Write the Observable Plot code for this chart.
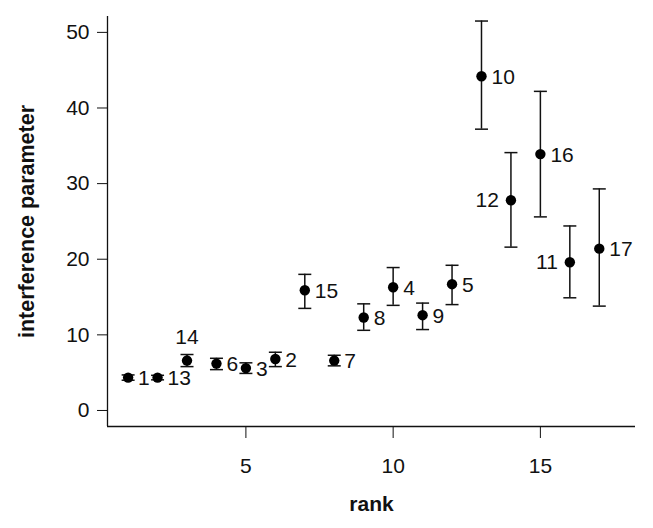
<!DOCTYPE html>
<html><head><meta charset="utf-8">
<script src="https://cdn.jsdelivr.net/npm/d3@7"></script>
<script src="https://cdn.jsdelivr.net/npm/@observablehq/plot@0.6"></script>
<style>body{margin:0;background:#fff;}</style>
</head><body><div id="chart"></div>
<script>
const ranks  = [1, 2, 3, 4, 5, 6, 7, 8, 9, 10, 11, 12, 13, 14, 15, 16, 17];
const labels = ["1","13","14","6","3","2","15","7","8","4","9","5","10","12","16","11","17"];
const values = [4.35, 4.35, 6.6, 6.2, 5.6, 6.8, 15.9, 6.6, 12.3, 16.3, 12.6, 16.7, 44.2, 27.8, 33.9, 19.6, 21.4];
const lower  = [4.0, 4.05, 5.8, 5.4, 4.9, 5.8, 13.5, 5.9, 10.6, 13.9, 10.7, 14.0, 37.2, 21.6, 25.6, 14.9, 13.8];
const upper  = [4.7, 4.65, 7.4, 6.9, 6.3, 7.7, 18.0, 7.3, 14.1, 18.9, 14.2, 19.2, 51.5, 34.1, 42.2, 24.4, 29.3];
const labelSide = ["right","right","top","right","right","right","right","right","right","right","right","right","right","left","right","left","right"];
const yTicks = [0, 10, 20, 30, 40, 50];
const xTicks = [5, 10, 15];

const data = ranks.map((r, i) => ({rank: r, label: labels[i], value: values[i], lo: lower[i], hi: upper[i], side: labelSide[i]}));
const xDomain = [0.3, 18.23];
const yDomain = [-2.12, 52.1];
const cap = {draw(ctx) { ctx.moveTo(-6.5, 0); ctx.lineTo(6.5, 0); }};
const font = "'Liberation Sans', Arial, sans-serif";

const chart = Plot.plot({
  width: 653,
  height: 528,
  marginLeft: 107,
  marginRight: 18,
  marginTop: 16,
  marginBottom: 102,
  style: {fontFamily: font, color: "#111", background: "#fff"},
  x: {domain: xDomain},
  y: {domain: yDomain},
  marks: [
    Plot.axisY({ticks: yTicks, tickSize: 10, tickPadding: 8, fontSize: 21, label: null, tickFormat: d => String(d)}),
    Plot.axisX({ticks: xTicks, tickSize: 12, tickPadding: 20, fontSize: 21, label: null, tickFormat: d => String(d)}),
    Plot.ruleX([xDomain[0]], {stroke: "#111", strokeWidth: 1.3}),
    Plot.ruleY([yDomain[0]], {stroke: "#111", strokeWidth: 1.3}),
    Plot.ruleX(data, {x: "rank", y1: "lo", y2: "hi", stroke: "#111", strokeWidth: 1.5}),
    Plot.dot(data, {x: "rank", y: "hi", symbol: cap, stroke: "#111", strokeWidth: 1.5}),
    Plot.dot(data, {x: "rank", y: "lo", symbol: cap, stroke: "#111", strokeWidth: 1.5}),
    Plot.dot(data, {x: "rank", y: "value", r: 5.2, fill: "#000", stroke: "none"}),
    Plot.text(data.filter(d => d.side === "right"), {x: "rank", y: "value", text: "label", dx: 10, dy: 1, textAnchor: "start", fontSize: 21, fill: "#111"}),
    Plot.text(data.filter(d => d.side === "left"), {x: "rank", y: "value", text: "label", dx: -12, textAnchor: "end", fontSize: 21, fill: "#111"}),
    Plot.text(data.filter(d => d.side === "top"), {x: "rank", y: "value", text: "label", dy: -23, textAnchor: "middle", fontSize: 21, fill: "#111"}),
    Plot.text(["rank"], {text: d => d, frameAnchor: "bottom", dy: 84, fontSize: 21, fontWeight: "bold", fill: "#111"}),
    Plot.text(["interference parameter"], {text: d => d, frameAnchor: "left", textAnchor: "middle", rotate: -90, dx: -80, fontSize: 21.5, fontWeight: "bold", fill: "#111"})
  ]
});
document.getElementById("chart").appendChild(chart);
</script>
</body></html>
